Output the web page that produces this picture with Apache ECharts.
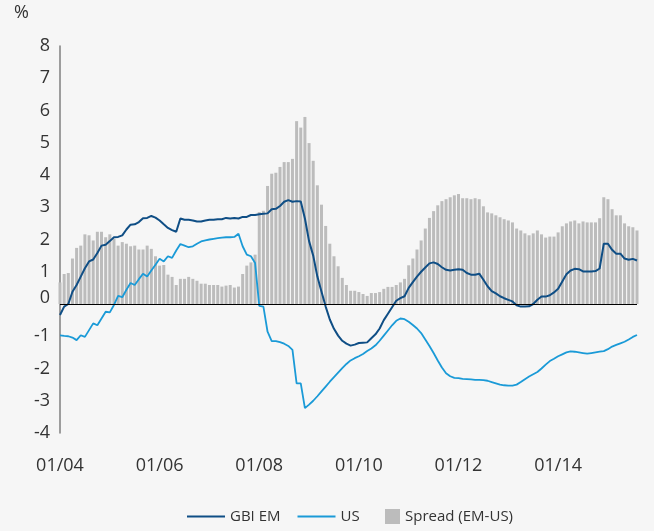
<!DOCTYPE html>
<html>
<head>
<meta charset="utf-8">
<script src="https://cdn.jsdelivr.net/npm/echarts@6/dist/echarts.min.js"></script>
<style>
html,body{margin:0;padding:0;background:#f6f6f6;}
#c{width:654px;height:531px;}
</style>
</head>
<body>
<div id="c"></div>
<script>
// Monthly categories Jan 2004 .. Aug 2015 (MM/YY)
const years = ['04','05','06','07','08','09','10','11','12','13','14','15'];
const monthNums = ['01','02','03','04','05','06','07','08','09','10','11','12'];
const categories = [];
for (const y of years) for (const m of monthNums) { if (categories.length < 140) categories.push(m + '/' + y); }

const seriesNames = ['GBI EM', 'US', 'Spread (EM-US)'];
const yTicks = [-4, 8, 1]; // min, max, step

const gbiEm = [
 -0.34,-0.08,0.00,0.38,0.59,0.85,1.11,1.32,1.38,1.58,1.81,1.84,
 1.95,2.07,2.08,2.13,2.31,2.46,2.47,2.54,2.66,2.67,2.73,2.68,
 2.59,2.47,2.36,2.29,2.24,2.65,2.61,2.61,2.59,2.56,2.56,2.59,
 2.61,2.61,2.63,2.63,2.67,2.65,2.67,2.65,2.70,2.70,2.76,2.76,
 2.78,2.80,2.81,2.94,2.95,3.04,3.17,3.22,3.17,3.19,3.18,2.65,
 1.95,1.50,0.85,0.38,-0.08,-0.48,-0.77,-0.98,-1.14,-1.23,-1.29,-1.26,
 -1.21,-1.20,-1.19,-1.06,-0.94,-0.76,-0.50,-0.30,-0.10,0.10,0.18,0.24,
 0.50,0.68,0.85,1.00,1.13,1.26,1.29,1.24,1.14,1.06,1.04,1.06,
 1.08,1.06,0.96,0.91,0.91,0.94,0.75,0.55,0.40,0.33,0.24,0.18,
 0.13,0.08,-0.04,-0.08,-0.08,-0.07,0.00,0.13,0.23,0.23,0.27,0.36,
 0.47,0.70,0.92,1.04,1.09,1.08,1.01,1.01,1.01,1.02,1.10,1.87,
 1.87,1.68,1.56,1.56,1.41,1.37,1.40,1.35
];

const us = [
 -0.97,-0.99,-1.00,-1.04,-1.12,-0.97,-1.02,-0.81,-0.60,-0.66,-0.45,-0.24,
 -0.26,-0.03,0.25,0.21,0.44,0.65,0.59,0.77,0.94,0.85,1.04,1.22,
 1.40,1.32,1.48,1.43,1.66,1.86,1.81,1.76,1.79,1.87,1.94,1.97,
 2.00,2.02,2.04,2.06,2.07,2.07,2.08,2.18,1.79,1.53,1.48,1.27,
 -0.06,-0.08,-0.86,-1.15,-1.15,-1.18,-1.23,-1.30,-1.42,-2.46,-2.46,-3.23,
 -3.12,-3.00,-2.86,-2.71,-2.56,-2.41,-2.27,-2.13,-1.99,-1.86,-1.75,-1.68,
 -1.62,-1.55,-1.46,-1.38,-1.28,-1.14,-0.98,-0.82,-0.66,-0.52,-0.45,-0.47,
 -0.55,-0.65,-0.76,-0.90,-1.10,-1.30,-1.52,-1.75,-1.97,-2.15,-2.24,-2.29,
 -2.30,-2.32,-2.33,-2.34,-2.35,-2.35,-2.36,-2.38,-2.42,-2.46,-2.50,-2.52,
 -2.53,-2.53,-2.50,-2.42,-2.33,-2.25,-2.18,-2.11,-2.00,-1.88,-1.77,-1.70,
 -1.62,-1.56,-1.50,-1.47,-1.48,-1.50,-1.52,-1.54,-1.52,-1.50,-1.48,-1.46,
 -1.40,-1.32,-1.27,-1.22,-1.17,-1.10,-1.02,-0.96
];

const spread = [
 0.67,0.93,0.96,1.41,1.74,1.81,2.16,2.13,1.97,2.24,2.24,2.07,
 2.16,2.02,1.81,1.92,1.87,1.79,1.81,1.69,1.69,1.81,1.71,1.48,
 1.19,1.21,0.91,0.84,0.59,0.78,0.78,0.84,0.78,0.72,0.63,0.63,
 0.59,0.59,0.59,0.54,0.57,0.59,0.51,0.54,0.93,1.19,1.29,1.53,
 2.85,2.89,3.66,4.04,4.07,4.25,4.40,4.40,4.50,5.67,5.47,5.80,
 4.99,4.44,3.68,3.08,2.42,1.87,1.48,1.17,0.81,0.59,0.41,0.41,
 0.37,0.31,0.25,0.34,0.34,0.37,0.47,0.53,0.53,0.59,0.67,0.78,
 1.20,1.41,1.69,1.97,2.34,2.67,2.88,3.06,3.19,3.25,3.31,3.37,
 3.41,3.28,3.28,3.25,3.28,3.25,3.03,2.84,2.81,2.75,2.69,2.63,
 2.59,2.53,2.34,2.28,2.19,2.13,2.19,2.28,2.16,2.06,2.09,2.09,
 2.22,2.41,2.50,2.56,2.59,2.50,2.56,2.53,2.53,2.53,2.66,3.31,
 3.25,2.94,2.75,2.75,2.50,2.41,2.38,2.28
];

const FONT = "'Open Sans', 'Noto Sans', sans-serif";
const LINE_ICON = 'path://M0,0 L38,0 L38,2 L0,2 Z';
const chart = echarts.init(document.getElementById('c'), null, {renderer: 'canvas'});
chart.setOption({
  backgroundColor: '#f6f6f6',
  animation: false,
  textStyle: {fontFamily: FONT},
  graphic: [{
    type: 'text', left: 14, top: 4,
    style: {text: '%', fontSize: 18, fill: '#333', fontFamily: FONT}
  }],
  grid: {left: 60, right: 17, top: 46, bottom: 98},
  legend: [{
    data: [{name: seriesNames[0], icon: LINE_ICON}, {name: seriesNames[1], icon: LINE_ICON}],
    left: 187, top: 509, padding: 0, itemWidth: 38, itemHeight: 15, itemGap: 17,
    symbolKeepAspect: true,
    textStyle: {fontSize: 15, color: '#333', fontFamily: FONT}
  }, {
    data: [{name: seriesNames[2], icon: 'rect'}],
    left: 385, top: 509, padding: 0, itemWidth: 15, itemHeight: 15,
    textStyle: {fontSize: 15, color: '#333', fontFamily: FONT}
  }],
  xAxis: {
    type: 'category', data: categories, boundaryGap: false,
    axisLine: {show: false}, axisTick: {show: false},
    axisLabel: {interval: 23, fontSize: 18, color: '#333', margin: 24, fontFamily: FONT}
  },
  yAxis: {
    type: 'value', min: yTicks[0], max: yTicks[1], interval: yTicks[2],
    splitLine: {show: false},
    axisLine: {show: true, lineStyle: {color: '#7f7f7f', width: 1.5}},
    axisTick: {show: false},
    axisLabel: {
      fontSize: 18, color: '#333', margin: 10, fontFamily: FONT,
      formatter: v => v === 0 ? '{z|0}' : String(v),
      rich: {z: {fontSize: 18, color: '#333', fontFamily: FONT, padding: [0, 0, 12, 0]}}
    }
  },
  series: [{
    name: seriesNames[2], type: 'bar', data: spread, barWidth: 3,
    itemStyle: {color: '#bcbcbc'}, z: 1,
    markLine: {
      silent: true, symbol: 'none', label: {show: false},
      lineStyle: {color: '#000', width: 1.2, type: 'solid'},
      data: [{yAxis: 0}]
    }
  }, {
    name: seriesNames[0], type: 'line', data: gbiEm, symbol: 'none',
    lineStyle: {color: '#0f4e85', width: 2}, itemStyle: {color: '#0f4e85'}, z: 3
  }, {
    name: seriesNames[1], type: 'line', data: us, symbol: 'none',
    lineStyle: {color: '#1a9ad7', width: 1.8}, itemStyle: {color: '#1a9ad7'}, z: 3
  }]
});
</script>
</body>
</html>
